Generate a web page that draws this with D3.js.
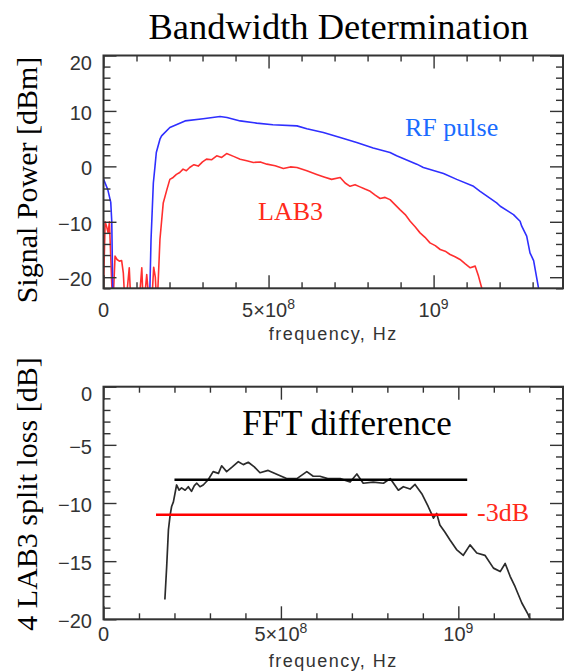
<!DOCTYPE html>
<html>
<head>
<meta charset="utf-8">
<script src="https://cdn.jsdelivr.net/npm/d3@7"></script>
<style>
  body { margin: 0; background: #fff; }
  svg { display: block; }
  .tick-label { font-family: "Liberation Sans", Arial, sans-serif; font-size: 20px; fill: #333; }
  .axis-name { font-family: "Liberation Sans", Arial, sans-serif; font-size: 18px; fill: #333; letter-spacing: 1.5px; }
  .serif { font-family: "Liberation Serif", "Times New Roman", serif; }
</style>
</head>
<body>
<div id="chart"></div>
<script>
// frequencies in MHz
const rfFreq  = [0, 13, 22, 25, 28, 35, 139, 144, 151, 156, 160, 171, 176, 201, 247, 302, 353, 374, 414, 464, 513, 586, 616, 666, 717, 767, 817, 868, 888, 949, 969, 1030, 1070, 1121, 1141, 1191, 1202, 1242, 1262, 1267, 1282, 1292, 1303, 1318, 1325];
const rfPower = [-2.3, -4.2, -6.5, -9.9, -22, -26, -26, -13.2, -3, 0, 2.5, 4.9, 5.5, 7.0, 8.2, 8.6, 9.0, 8.8, 8.2, 7.8, 7.5, 7.3, 6.8, 6.1, 5.2, 4.3, 3.3, 2.5, 1.9, 0.4, -0.2, -1.3, -2.35, -3.6, -4.5, -6.6, -7.2, -8.7, -9.9, -10.8, -12.6, -15.6, -17, -22, -26];

const labFreq  = [0, 5, 10, 14, 18, 28, 35, 41, 48, 55, 60, 66, 78, 84, 106, 116, 121, 131, 140, 145, 152, 157, 162, 171, 181, 192, 201, 211, 221, 231, 241, 251, 261, 274, 287, 300, 312, 328, 343, 358, 373, 394, 414, 434, 454, 475, 495, 520, 545, 566, 586, 616, 646, 668, 691, 717, 732, 747, 762, 777, 792, 808, 823, 838, 853, 868, 883, 898, 914, 929, 944, 959, 974, 989, 1005, 1020, 1035, 1050, 1065, 1080, 1096, 1111, 1126, 1136, 1146, 1155];
const labPower = [-22, -10, -11, -12, -10, -26, -16.2, -16.8, -17.1, -17, -19.2, -26, -18.3, -26, -26, -18.3, -26, -19.5, -26, -26, -18.2, -20, -26, -13.2, -6.6, -4.2, -2.35, -2.0, -1.45, -1.1, -0.5, -0.8, -0.2, 0.3, 0.05, 0.8, 1.3, 1.2, 1.9, 1.6, 2.3, 1.8, 1.3, 1.0, 0.7, 0.8, 0.4, 0.1, -0.4, -0.1, -0.2, -0.8, -1.45, -1.9, -2.35, -2.0, -3.0, -3.6, -3.3, -3.7, -4.1, -4.5, -5.2, -5.8, -5.6, -6.0, -6.9, -7.8, -8.7, -9.9, -10.9, -12, -12.8, -13.8, -14.3, -15, -15.3, -15.9, -16.3, -16.8, -17.6, -18.3, -18, -19.8, -22, -26];

const diffFreq = [173, 178, 183, 188, 192, 197, 206, 213, 220, 230, 239, 248, 256, 263, 272, 281, 295, 309, 324, 333, 347, 363, 380, 394, 408, 425, 441, 464, 493, 516, 545, 573, 591, 610, 632, 657, 667, 695, 714, 732, 760, 789, 808, 831, 845, 864, 878, 897, 915, 930, 939, 948, 962, 977, 995, 1014, 1033, 1052, 1075, 1099, 1118, 1132, 1146, 1160, 1179, 1197, 1202];
const diffLoss = [-18.3, -15.5, -12.3, -11.0, -10.3, -9.9, -8.45, -8.9, -8.7, -8.9, -8.6, -9.0, -8.5, -8.3, -8.6, -8.45, -8.0, -7.3, -7.45, -6.8, -7.3, -6.9, -6.45, -6.7, -6.5, -6.9, -7.4, -7.2, -7.6, -7.9, -7.9, -7.3, -7.7, -7.7, -7.9, -7.9, -7.9, -8.2, -7.5, -8.3, -8.2, -8.3, -7.9, -8.9, -8.6, -8.8, -8.4, -9.2, -10.3, -11.3, -10.9, -11.9, -12.5, -13.2, -14.0, -14.5, -13.6, -14.3, -14.5, -15.6, -15.9, -15.2, -16.3, -17.2, -18.6, -19.6, -20];

const flatLevel = -8;          // black reference level
const flatRange = [200, 1025];
const cutLevel = -11;          // -3dB level
const cutRange = [148, 1025];

const topYTicks = [20, 10, 0, -10, -20];
const bottomYTicks = [0, -5, -10, -15, -20];
const xTickLabels = [
  {f: 0, base: "0", sup: ""},
  {f: 500, base: "5×10", sup: "8"},
  {f: 1000, base: "10", sup: "9"}
];

const W = 564, H = 672;
const svg = d3.select("#chart").append("svg").attr("width", W).attr("height", H);

function drawFrame(x, y, yMinorStep, yMajorStep){
  const [x0, x1] = x.range();
  const [yb, yt] = y.range();
  const g = svg.append("g");
  const xdom = x.domain(), ydom = y.domain();
  const xMinor = d3.range(0, xdom[1] + 1e-6, 100);
  const yMinor = d3.range(ydom[0], ydom[1] + 1e-6, yMinorStep).filter(v => Math.abs(v % yMinorStep) < 1e-6);
  const isMajX = v => Math.abs(v % 500) < 1e-6;
  const isMajY = v => Math.abs(v % yMajorStep) < 1e-6;

  // ticks pointing inward on all four sides
  g.append("g").attr("transform", `translate(0,${yb})`)
    .call(d3.axisTop(x).tickValues(xMinor.filter(v => !isMajX(v))).tickSize(6).tickFormat(""));
  g.append("g").attr("transform", `translate(0,${yb})`)
    .call(d3.axisTop(x).tickValues(xMinor.filter(isMajX)).tickSize(13).tickFormat(""));
  g.append("g").attr("transform", `translate(0,${yt})`)
    .call(d3.axisBottom(x).tickValues(xMinor.filter(v => !isMajX(v))).tickSize(6).tickFormat(""));
  g.append("g").attr("transform", `translate(0,${yt})`)
    .call(d3.axisBottom(x).tickValues(xMinor.filter(isMajX)).tickSize(13).tickFormat(""));
  g.append("g").attr("transform", `translate(${x0},0)`)
    .call(d3.axisRight(y).tickValues(yMinor.filter(v => !isMajY(v))).tickSize(7).tickFormat(""));
  g.append("g").attr("transform", `translate(${x0},0)`)
    .call(d3.axisRight(y).tickValues(yMinor.filter(isMajY)).tickSize(13).tickFormat(""));
  g.append("g").attr("transform", `translate(${x1},0)`)
    .call(d3.axisLeft(y).tickValues(yMinor.filter(v => !isMajY(v))).tickSize(7).tickFormat(""));
  g.append("g").attr("transform", `translate(${x1},0)`)
    .call(d3.axisLeft(y).tickValues(yMinor.filter(isMajY)).tickSize(13).tickFormat(""));
  g.selectAll(".domain").remove();
  g.selectAll(".tick line").attr("stroke", "#333").attr("stroke-width", 1.4);

  g.append("rect")
    .attr("x", x0).attr("y", yt)
    .attr("width", x1 - x0).attr("height", yb - yt)
    .attr("fill", "none").attr("stroke", "#333").attr("stroke-width", 2);
}

function drawLabels(x, y, yTicks, labelBaseline, nameBaseline){
  const [yb, yt] = y.range();
  yTicks.forEach(v => {
    const py = y(v);
    const shift = Math.abs(py - yt) < 2 ? 7 : 2;
    svg.append("text").attr("class", "tick-label")
      .attr("x", 92).attr("y", py + shift).attr("dy", "0.35em")
      .attr("text-anchor", "end")
      .text(v < 0 ? "\u2212" + Math.abs(v) : String(v));
  });
  xTickLabels.forEach(t => {
    const txt = svg.append("text").attr("class", "tick-label")
      .attr("x", x(t.f)).attr("y", labelBaseline)
      .attr("text-anchor", "middle");
    txt.append("tspan").text(t.base);
    if (t.sup) txt.append("tspan").attr("dy", -8).style("font-size", "14px").text(t.sup);
  });
  svg.append("text").attr("class", "axis-name")
    .attr("x", (x.range()[0] + x.range()[1]) / 2 + 0).attr("y", nameBaseline)
    .attr("text-anchor", "middle").text("frequency, Hz");
}

function clipFor(id, x, y){
  svg.append("clipPath").attr("id", id).append("rect")
    .attr("x", x.range()[0]).attr("y", y.range()[1])
    .attr("width", x.range()[1] - x.range()[0])
    .attr("height", y.range()[0] - y.range()[1]);
}

// ---------- top panel ----------
const xTop = d3.scaleLinear().domain([0, 1392]).range([103.5, 563]);
const yTop = d3.scaleLinear().domain([-22, 20]).range([288.3, 55.5]);
clipFor("clipTop", xTop, yTop);

const lineTop = d3.line().x(d => xTop(d[0])).y(d => yTop(d[1]));
const plotTop = svg.append("g").attr("clip-path", "url(#clipTop)");
plotTop.append("path")
  .datum(d3.zip(labFreq, labPower))
  .attr("d", lineTop).attr("fill", "none")
  .attr("stroke", "#ff2f2f").attr("stroke-width", 1.6).attr("stroke-linejoin", "round");
plotTop.append("path")
  .datum(d3.zip(rfFreq, rfPower))
  .attr("d", lineTop).attr("fill", "none")
  .attr("stroke", "#2f2fff").attr("stroke-width", 1.6).attr("stroke-linejoin", "round");

drawFrame(xTop, yTop, 2, 10);
drawLabels(xTop, yTop, topYTicks, 317, 340);

svg.append("text").attr("class", "serif")
  .attr("x", 338.5).attr("y", 39).attr("text-anchor", "middle")
  .style("font-size", "36.5px").attr("fill", "#000")
  .text("Bandwidth Determination");
svg.append("text").attr("class", "serif")
  .attr("transform", "translate(37,180) rotate(-90)").attr("text-anchor", "middle")
  .style("font-size", "30px").attr("fill", "#000")
  .text("Signal Power [dBm]");
svg.append("text").attr("class", "serif")
  .attr("x", 405).attr("y", 136)
  .style("font-size", "26px").attr("fill", "#1a6cff")
  .text("RF pulse");
svg.append("text").attr("class", "serif")
  .attr("x", 258).attr("y", 220)
  .style("font-size", "26px").attr("fill", "#ff2a1a")
  .text("LAB3");

// ---------- bottom panel ----------
const xBot = d3.scaleLinear().domain([0, 1295]).range([103.5, 563]);
const yBot = d3.scaleLinear().domain([-20, 0]).range([619.3, 386.7]);
clipFor("clipBot", xBot, yBot);

const lineBot = d3.line().x(d => xBot(d[0])).y(d => yBot(d[1]));
const plotBot = svg.append("g").attr("clip-path", "url(#clipBot)");
plotBot.append("path")
  .datum(d3.zip(diffFreq, diffLoss))
  .attr("d", lineBot).attr("fill", "none")
  .attr("stroke", "#2b2b2b").attr("stroke-width", 1.7).attr("stroke-linejoin", "round");
plotBot.append("path")
  .datum(cutRange.map(f => [f, cutLevel]))
  .attr("d", lineBot).attr("stroke", "#ff0000").attr("stroke-width", 2.5);
plotBot.append("path")
  .datum(flatRange.map(f => [f, flatLevel]))
  .attr("d", lineBot).attr("stroke", "#000").attr("stroke-width", 2.5);

drawFrame(xBot, yBot, 1, 5);
drawLabels(xBot, yBot, bottomYTicks, 641, 667);

svg.append("text").attr("class", "serif")
  .attr("x", 347).attr("y", 435).attr("text-anchor", "middle")
  .style("font-size", "35px").attr("fill", "#000")
  .text("FFT difference");
svg.append("text").attr("class", "serif")
  .attr("x", 477).attr("y", 521)
  .style("font-size", "26px").attr("fill", "#ff2a1a")
  .text("-3dB");
svg.append("text").attr("class", "serif")
  .attr("transform", "translate(37,494) rotate(-90)").attr("text-anchor", "middle")
  .style("font-size", "30px").attr("fill", "#000")
  .text("4 LAB3 split loss [dB]");
</script>
</body>
</html>
